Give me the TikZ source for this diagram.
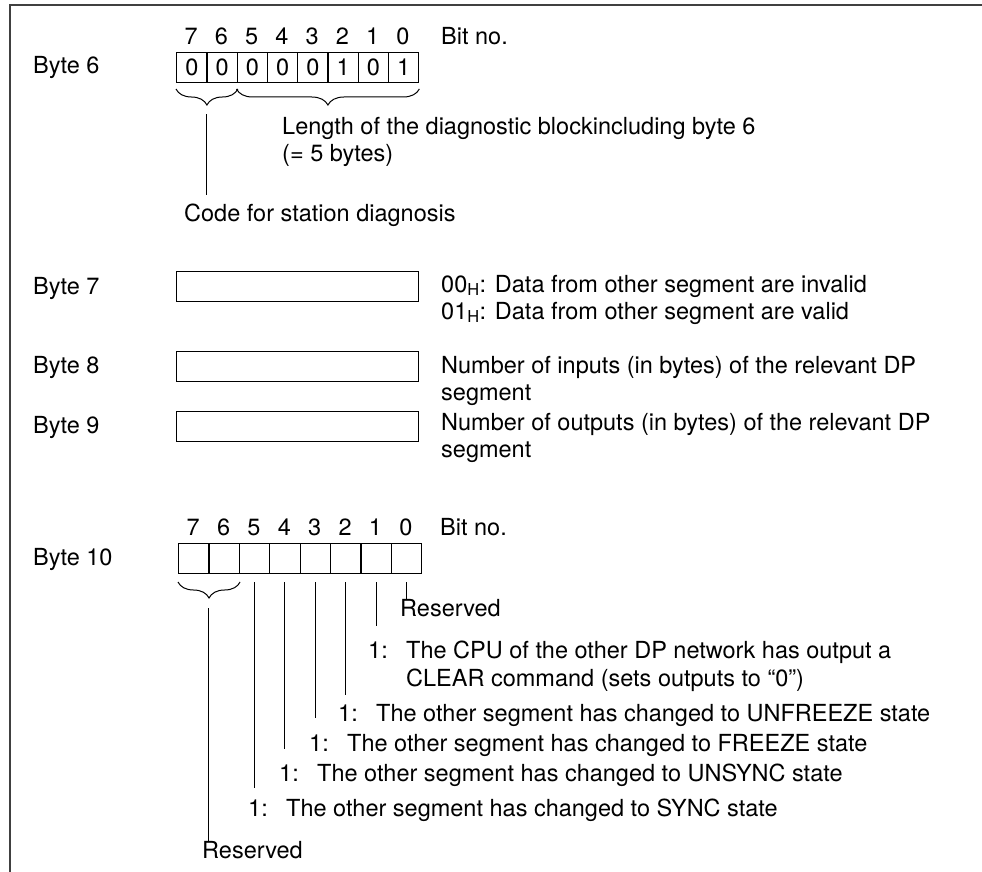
\documentclass[tikz,border=0pt]{standalone}
\usepackage{fontspec}
\setmainfont{TeX Gyre Heros}
\usetikzlibrary{decorations.pathreplacing,calc}
\newcommand{\fs}{\fontsize{23.5}{27}\selectfont}
\begin{document}
\begin{tikzpicture}[x=1pt,y=-1pt,
  every node/.style={inner sep=0pt, font=\fs},
  lbl/.style={anchor=base west},
  bitno/.style={anchor=base},
  cell/.style={draw, line width=1.3pt, minimum width=30.3pt, minimum height=30pt, anchor=north west},
  bigbox/.style={draw, line width=1.3pt, minimum width=242pt, minimum height=30pt, anchor=north west},
  thinline/.style={line width=1pt},
  brc/.style={decorate, decoration={brace, mirror, amplitude=16pt}, line width=1pt},
  frameline/.style={line width=2.5pt, draw=black!75}
]
\useasboundingbox (0,0) rectangle (982,872);
% frame
\draw[frameline] (10,872) -- (10,5) -- (982,5);

% ---------- Byte 6 ----------
\node[lbl] (by6) at (33,74) {Byte 6};
\foreach \v [count=\i from 0] in {0,0,0,0,0,1,0,1}
  \node[cell] (a\i) at ({176+30.25*\i},52) {\v};
\foreach \b [count=\i from 0] in {7,6,5,4,3,2,1,0}
  \node[bitno] (na\i) at ({176+30.25*\i+15.1},45) {\b};
\node[lbl] (bitno6) at (441,45) {Bit no.};
\draw[brc] (a0.south west |- 0,89) -- (a1.south east |- 0,89);
\draw[brc] (a2.south west |- 0,89) -- (a7.south east |- 0,89);
\coordinate (tip1) at ($(a1.south west)+(0,31)$);
\node[lbl] (len1) at (282,135) {Length of the diagnostic blockincluding byte 6};
\node[lbl] (len2) at (282,161) {(= 5 bytes)};
\node[lbl] (code) at (184,221) {Code for station diagnosis};
\draw[thinline] (tip1) -- ($(tip1 |- code.north)+(0,-8)$);

% ---------- Byte 7 ----------
\node[lbl] (by7) at (33,294) {Byte 7};
\node[bigbox] (box7) at (176,271) {};
\node[lbl] (t7a) at (441,292) {00\textsubscript{H}: Data from other segment are invalid};
\node[lbl] (t7b) at (441,319) {01\textsubscript{H}: Data from other segment are valid};

% ---------- Byte 8 ----------
\node[lbl] (by8) at (33,373) {Byte 8};
\node[bigbox] (box8) at (176,351) {};
\node[lbl] (t8a) at (441,373) {Number of inputs (in bytes) of the relevant DP};
\node[lbl] (t8b) at (441,400) {segment};

% ---------- Byte 9 ----------
\node[lbl] (by9) at (33,433) {Byte 9};
\node[bigbox] (box9) at (176,411) {};
\node[lbl] (t9a) at (441,430) {Number of outputs (in bytes) of the relevant DP};
\node[lbl] (t9b) at (441,457) {segment};

% ---------- Byte 10 ----------
\node[lbl] (by10) at (33,565) {Byte 10};
\foreach \i in {0,...,7}
  \node[cell, minimum width=30.4pt] (c\i) at ({178+30.375*\i},543) {};
\foreach \b [count=\i from 0] in {7,6,5,4,3,2,1,0}
  \node[bitno] (nc\i) at ({178+30.375*\i+15.2},535) {\b};
\node[lbl] (bitno10) at (440,535) {Bit no.};
\draw[brc] (c0.south west |- 0,582) -- (c1.south east |- 0,582);
\coordinate (tip2) at ($(c1.south west)+(0,34)$);

\node[lbl] (r0) at (400,616) {Reserved};
\node[lbl] (r1a) at (368,658) {\makebox[38pt][l]{1:}The CPU of the other DP network has output a};
\node[lbl] (r1b) at (406,686) {CLEAR command (sets outputs to “0”)};
\node[lbl] (r2) at (338,721) {\makebox[38pt][l]{1:}The other segment has changed to UNFREEZE state};
\node[lbl] (r3) at (309,751) {\makebox[38pt][l]{1:}The other segment has changed to FREEZE state};
\node[lbl] (r4) at (279,781) {\makebox[38pt][l]{1:}The other segment has changed to UNSYNC state};
\node[lbl] (r5) at (248,816) {\makebox[38pt][l]{1:}The other segment has changed to SYNC state};
\node[lbl] (r7) at (202,858) {Reserved};

\draw[thinline] ($(c7.south)+(0,8)$) -- (c7.south |- r0.north);
\draw[thinline] ($(c6.south)+(0,8)$) -- ($(c6.south |- r1a.north)+(0,-14)$);
\draw[thinline] ($(c5.south)+(0,8)$) -- ($(c5.south |- r2.north)+(0,-9)$);
\draw[thinline] ($(c4.south)+(0,8)$) -- ($(c4.south |- r3.north)+(0,-16)$);
\draw[thinline] ($(c3.south)+(0,8)$) -- ($(c3.south |- r4.north)+(0,-14)$);
\draw[thinline] ($(c2.south)+(0,8)$) -- ($(c2.south |- r5.north)+(0,-10)$);
\draw[thinline] (tip2) -- (tip2 |- r7.north);
\end{tikzpicture}
\end{document}
